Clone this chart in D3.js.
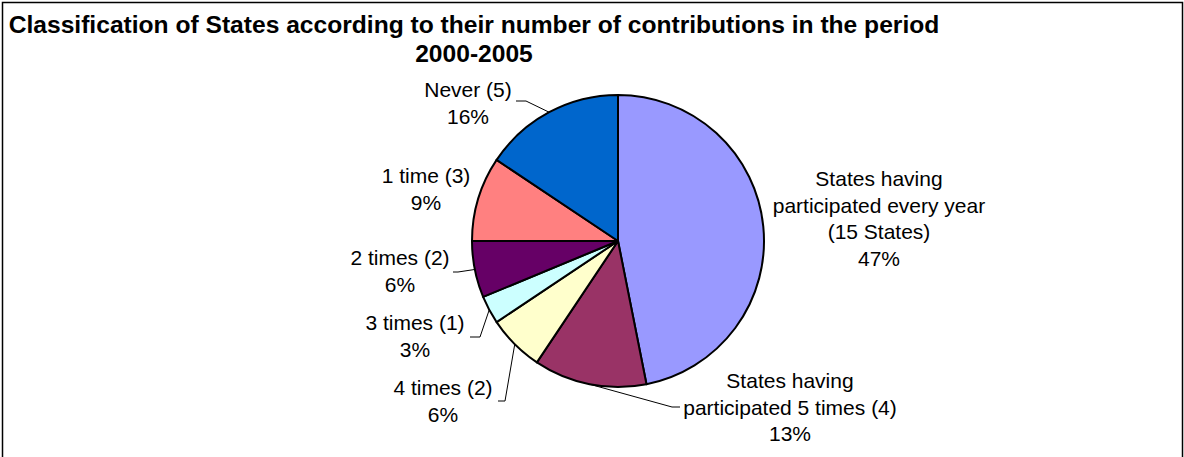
<!DOCTYPE html>
<html><head><meta charset="utf-8">
<script src="https://cdn.jsdelivr.net/npm/d3@7"></script>
<style>html,body{margin:0;padding:0;background:#fff;}svg{display:block;}</style>
</head><body>
<svg id="chart" width="1184" height="457"></svg>
<script>
// ---- data ----
const categories = ["States having participated every year", "States having participated 5 times", "4 times", "3 times", "2 times", "1 time", "Never"];
const counts = [15, 4, 2, 1, 2, 3, 5];
const labelLines = [
  ["States having", "participated every year", "(15 States)"],
  ["States having", "participated 5 times (4)"],
  ["4 times (2)"],
  ["3 times (1)"],
  ["2 times (2)"],
  ["1 time (3)"],
  ["Never (5)"]
];
const titleLines = ["Classification of States according to their number of contributions in the period", "2000-2005"];

// ---- styling / layout ----
const colors = ["#9999FF", "#993366", "#FFFFCC", "#CCFFFF", "#660066", "#FF8080", "#0066CC"];
const cx = 618, cy = 241, R = 146;
const labelLayout = [
  {x: 879, y: 186, leader: null},
  {x: 790, y: 388, leader: {sx: 680, sy: 407, ex: 672}},
  {x: 443, y: 395, leader: {sx: 498, sy: 401, ex: 505}},
  {x: 415, y: 330, leader: {sx: 470, sy: 337, ex: 480}},
  {x: 400, y: 265, leader: {sx: 453, sy: 272, ex: 458}},
  {x: 426, y: 183, leader: null},
  {x: 468, y: 97, leader: {sx: 516, sy: 101, ex: 526}}
];
const lineH = 26.5;

const svg = d3.select("#chart");
const font = "'Liberation Sans', Arial, sans-serif";

// frame
svg.append("rect").attr("x", 2.5).attr("y", 2.5).attr("width", 1180).attr("height", 470)
  .attr("fill", "#fff").attr("stroke", "#000").attr("stroke-width", 1.5);

// title
svg.append("g").selectAll("text").data(titleLines).join("text")
  .attr("x", 474).attr("y", (d, i) => 33 + i * 29)
  .attr("text-anchor", "middle")
  .attr("font-family", font).attr("font-weight", "bold").attr("font-size", 24.6)
  .attr("fill", "#000").text(d => d);

const total = d3.sum(counts);
const pie = d3.pie().sort(null).value(d => d).startAngle(0).endAngle(2 * Math.PI);
const arcs = pie(counts);
const arc = d3.arc().innerRadius(0).outerRadius(R);

const g = svg.append("g").attr("transform", `translate(${cx},${cy})`);
g.selectAll("path").data(arcs).join("path")
  .attr("d", arc)
  .attr("fill", (d, i) => colors[i])
  .attr("stroke", "#000").attr("stroke-width", 2).attr("stroke-linejoin", "round");

// leader lines
arcs.forEach((a, i) => {
  const L = labelLayout[i].leader;
  if (!L) return;
  const m = (a.startAngle + a.endAngle) / 2;
  const px = cx + R * Math.sin(m), py = cy - R * Math.cos(m);
  svg.append("polyline")
    .attr("points", `${L.sx},${L.sy} ${L.ex},${L.sy} ${px},${py}`)
    .attr("fill", "none").attr("stroke", "#000").attr("stroke-width", 1);
});

// labels
arcs.forEach((a, i) => {
  const pct = Math.round(counts[i] / total * 100) + "%";
  const lines = labelLines[i].concat([pct]);
  const lay = labelLayout[i];
  svg.append("g").selectAll("text").data(lines).join("text")
    .attr("x", lay.x).attr("y", (d, k) => lay.y + k * lineH)
    .attr("text-anchor", "middle")
    .attr("font-family", font).attr("font-size", 21).attr("fill", "#000")
    .text(d => d);
});
</script>
</body></html>
